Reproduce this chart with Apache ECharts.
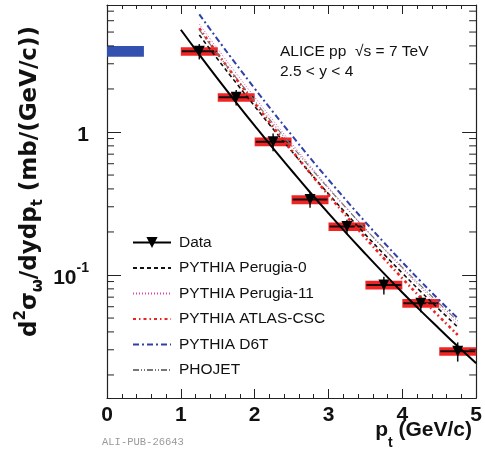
<!DOCTYPE html>
<html><head><meta charset="utf-8">
<script src="https://cdn.jsdelivr.net/npm/echarts@6/dist/echarts.min.js"></script>
<style>html,body{margin:0;padding:0;background:#fff}#c{width:485px;height:450px}</style>
</head><body><div id="c"></div>
<script>
// ---------- data ----------
const xTickLabels = ['0','1','2','3','4','5'];
const ptCenters   = [1.25, 1.75, 2.25, 2.75, 3.25, 3.75, 4.25, 4.75];
const ptHalfWidth = [0.25, 0.25, 0.25, 0.25, 0.25, 0.25, 0.25, 0.25];
const dataValues  = [3.67, 1.75, 0.855, 0.337, 0.218, 0.0851, 0.0635, 0.0293];
const statErr     = [0.45, 0.22, 0.12, 0.042, 0.025, 0.012, 0.0085, 0.0045];
const sysErr      = [0.25, 0.12, 0.06, 0.024, 0.015, 0.006, 0.0045, 0.002];
const normUncX    = [0, 0.5];
const normUncY    = [3.36, 3.99];

const fitX      = [1.0, 1.25, 1.5, 1.75, 2.0, 2.25, 2.5, 2.75, 3.0, 3.25, 3.5, 3.75, 4.0, 4.25, 4.5, 4.75, 5.0];
const fitValues = [5.19, 3.48, 2.355, 1.608, 1.107, 0.768, 0.538, 0.379, 0.270, 0.194, 0.1406, 0.1026, 0.0755, 0.0561, 0.0421, 0.0317, 0.02416];

const modelX     = [1.25, 1.5, 1.75, 2.0, 2.25, 2.5, 2.75, 3.0, 3.25, 3.5, 3.75, 4.0, 4.25, 4.5, 4.75];
const perugia0   = [4.77, 3.224, 2.201, 1.515, 1.049, 0.7355, 0.5185, 0.3692, 0.2653, 0.1916, 0.1400, 0.1031, 0.0766, 0.0574, 0.0433];
const perugia11  = [5.69, 3.805, 2.572, 1.752, 1.204, 0.8344, 0.5821, 0.4106, 0.2925, 0.2098, 0.1518, 0.1109, 0.0816, 0.0607, 0.0454];
const atlasCSC   = [5.31, 3.520, 2.357, 1.593, 1.084, 0.7462, 0.5168, 0.3614, 0.2553, 0.1817, 0.1306, 0.0947, 0.0693, 0.0512, 0.0381];
const d6t        = [6.655, 4.429, 2.975, 2.015, 1.378, 0.9513, 0.6601, 0.4638, 0.3286, 0.2344, 0.1690, 0.1229, 0.0902, 0.0668, 0.0498];
const phojet     = [5.17, 3.50, 2.389, 1.648, 1.145, 0.8019, 0.5665, 0.4034, 0.2904, 0.2101, 0.1537, 0.1132, 0.0842, 0.0632, 0.0477];

const yMin = 0.0138, yMax = 7.73;
const yMinorTicks = [0.02,0.03,0.04,0.05,0.06,0.07,0.08,0.09,0.2,0.3,0.4,0.5,0.6,0.7,0.8,0.9,2,3,4,5,6,7];

// ---------- chart ----------
const FONT = 'Liberation Sans, Arial, Helvetica, sans-serif';
const TFONT = 'DejaVu Sans, Liberation Sans, sans-serif';
const AX = '#222';
const chart = echarts.init(document.getElementById('c'), null, {renderer: 'canvas'});
const pair = (xs, ys) => xs.map((x, i) => [x, ys[i]]);

function xAxisDef(pos, showLabel) {
  return {
    type: 'value', min: 0, max: 5, interval: 1, position: pos,
    axisLine: {show: true, onZero: false, lineStyle: {color: AX, width: 1.2}},
    axisTick: {show: true, inside: true, length: 9, lineStyle: {color: AX, width: 1}},
    minorTick: {show: true, splitNumber: 5, length: 4, lineStyle: {color: AX, width: 1}},
    splitLine: {show: false},
    axisLabel: {show: showLabel, fontSize: 21, fontWeight: 'bold', color: '#111', fontFamily: FONT, margin: 7,
      formatter: v => xTickLabels[Math.round(v)] || ''}
  };
}
function yAxisDef(pos, showLabel) {
  return {
    type: 'log', logBase: 10, min: yMin, max: yMax, position: pos,
    axisLine: {show: true, onZero: false, lineStyle: {color: AX, width: 1.2}},
    axisTick: {show: true, inside: true, length: 14, lineStyle: {color: AX, width: 1}},
    splitLine: {show: false},
    axisLabel: {show: showLabel, margin: 18, color: '#111', fontFamily: FONT,
      formatter: v => {
        const l = Math.log10(v), r = Math.round(l);
        if (Math.abs(l - r) > 1e-6) return '';
        if (r === 0) return '{n|1}';
        return '{n|10}{s|' + r + '}';
      },
      rich: {
        n: {fontSize: 21, fontWeight: 'bold', fontFamily: FONT, color: '#111', lineHeight: 28, verticalAlign: 'bottom'},
        s: {fontSize: 14, fontWeight: 'bold', fontFamily: FONT, color: '#111', lineHeight: 14, verticalAlign: 'top'}
      }
    }
  };
}

const modelDefs = [
  {name: 'PYTHIA Perugia-0',  vals: perugia0,  color: '#111111', width: 1.6, type: [4, 3]},
  {name: 'PYTHIA Perugia-11', vals: perugia11, color: '#e040b0', width: 1.0, type: [1, 2]},
  {name: 'PYTHIA ATLAS-CSC',  vals: atlasCSC,  color: '#ee2222', width: 2.6, type: [3, 3, 1.5, 3]},
  {name: 'PYTHIA D6T',        vals: d6t,       color: '#3040a8', width: 2.0, type: [6, 3, 2, 3]},
  {name: 'PHOJET',            vals: phojet,    color: '#777777', width: 1.2, type: [6, 2, 1, 2, 1, 2]}
];

const series = [];

// normalisation uncertainty box
series.push({
  type: 'custom', coordinateSystem: 'cartesian2d', silent: true, z: 2, clip: false,
  data: [[normUncX[0], normUncY[0], normUncX[1], normUncY[1]]],
  renderItem: (params, api) => {
    const a = api.coord([api.value(0), api.value(3)]);
    const b = api.coord([api.value(2), api.value(1)]);
    return {type: 'rect', shape: {x: a[0], y: a[1], width: b[0] - a[0], height: b[1] - a[1]},
      style: {fill: '#3352b0'}};
  }
});

// systematic boxes + error bars
series.push({
  type: 'custom', coordinateSystem: 'cartesian2d', silent: true, z: 2,
  data: ptCenters.map((x, i) => [x, dataValues[i], ptHalfWidth[i], sysErr[i], statErr[i]]),
  renderItem: (params, api) => {
    const x = api.value(0), y = api.value(1), hw = api.value(2), sy = api.value(3), st = api.value(4);
    const a = api.coord([x - hw, y + sy]);
    const b = api.coord([x + hw, y - sy]);
    const c = api.coord([x, y]);
    const s1 = api.coord([x, y + st]);
    const s2 = api.coord([x, y - st]);
    return {type: 'group', children: [
      {type: 'rect', shape: {x: a[0], y: a[1], width: b[0] - a[0], height: b[1] - a[1]}, style: {fill: '#f02424'}},
      {type: 'line', shape: {x1: a[0] + 1, y1: c[1], x2: b[0] - 1, y2: c[1]}, style: {stroke: '#111', lineWidth: 2}},
      {type: 'line', shape: {x1: c[0], y1: s1[1], x2: c[0], y2: s2[1]}, style: {stroke: '#111', lineWidth: 1.5}}
    ]};
  }
});

// models
modelDefs.forEach(m => series.push({
  name: m.name, type: 'line', data: pair(modelX, m.vals), smooth: true, symbol: 'none', z: 3,
  lineStyle: {color: m.color, width: m.width, type: m.type}, itemStyle: {color: m.color}
}));

// fit curve
series.push({
  name: 'fit', type: 'line', data: pair(fitX, fitValues), smooth: true, symbol: 'none', z: 4,
  lineStyle: {color: '#000', width: 2}
});

// data points
series.push({
  name: 'Data', type: 'line', data: pair(ptCenters, dataValues), z: 5,
  symbol: 'triangle', symbolRotate: 180, symbolSize: 11, showSymbol: true,
  lineStyle: {width: 0, opacity: 0}, itemStyle: {color: '#000'}
});

// minor ticks on log axes (left and right)
series.push({
  type: 'custom', coordinateSystem: 'cartesian2d', silent: true, z: 6, clip: false,
  data: yMinorTicks.map(v => [0, v]),
  renderItem: (params, api) => {
    const v = api.value(1);
    const l = api.coord([0, v]), r = api.coord([5, v]);
    return {type: 'group', children: [
      {type: 'line', shape: {x1: l[0], y1: l[1], x2: l[0] + 7, y2: l[1]}, style: {stroke: AX, lineWidth: 1}},
      {type: 'line', shape: {x1: r[0] - 7, y1: r[1], x2: r[0], y2: r[1]}, style: {stroke: AX, lineWidth: 1}}
    ]};
  }
});

const hideSym = {opacity: 0};
const option = {
  animation: false,
  backgroundColor: '#fff',
  grid: {left: 107, right: 7, top: 5, bottom: 52},
  xAxis: [xAxisDef('bottom', true), xAxisDef('top', false)],
  yAxis: [yAxisDef('left', true), yAxisDef('right', false)],
  legend: {
    orient: 'vertical', left: 132, top: 234.5, padding: 0, itemWidth: 38, itemHeight: 14, itemGap: 9.5,
    selectedMode: false,
    textStyle: {fontSize: 15.5, color: '#111', fontFamily: FONT, padding: [0, 0, 0, 3]},
    data: [
      {name: 'Data', lineStyle: {width: 2, color: '#000', opacity: 1, type: 'solid'}, itemStyle: {color: '#000'}},
      {name: 'PYTHIA Perugia-0', itemStyle: hideSym},
      {name: 'PYTHIA Perugia-11', itemStyle: hideSym},
      {name: 'PYTHIA ATLAS-CSC', itemStyle: hideSym},
      {name: 'PYTHIA D6T', itemStyle: hideSym},
      {name: 'PHOJET', itemStyle: hideSym}
    ]
  },
  graphic: [
    {type: 'text', left: 280, top: 44, style: {text: 'ALICE pp  \u221As = 7 TeV', font: '15.5px ' + FONT, fill: '#111'}},
    {type: 'text', left: 280, top: 64, style: {text: '2.5 < y < 4', font: '15.5px ' + FONT, fill: '#111'}},
    {type: 'text', x: 472, y: 435, style: {
      text: '{a|p}{b|t}{a| (GeV/c)}', align: 'right', verticalAlign: 'middle',
      rich: {
        a: {fontSize: 21, fontWeight: 'bold', fontFamily: FONT, fill: '#111', lineHeight: 30, verticalAlign: 'top'},
        b: {fontSize: 14, fontWeight: 'bold', fontFamily: FONT, fill: '#111', lineHeight: 14, verticalAlign: 'bottom'}
      }}},
    {type: 'text', x: 30, y: 337, rotation: Math.PI / 2, style: {
      text: '{a|d}{p|2}{a|\u03C3}{b|\u03C9}{a|/dydp}{b|t}{a| (mb/(GeV/c))}', align: 'left', verticalAlign: 'middle',
      rich: {
        a: {fontSize: 23, fontWeight: 'bold', fontFamily: TFONT, fill: '#111', lineHeight: 32, verticalAlign: 'middle'},
        p: {fontSize: 15, fontWeight: 'bold', fontFamily: TFONT, fill: '#111', lineHeight: 15, verticalAlign: 'top'},
        b: {fontSize: 15, fontWeight: 'bold', fontFamily: TFONT, fill: '#111', lineHeight: 15, verticalAlign: 'bottom'}
      }}},
    {type: 'text', left: 102, top: 437, style: {text: 'ALI-PUB-26643', font: '10.5px Liberation Mono, monospace', fill: '#9a9a9a'}}
  ],
  series: series
};
chart.setOption(option);
</script>
</body></html>
